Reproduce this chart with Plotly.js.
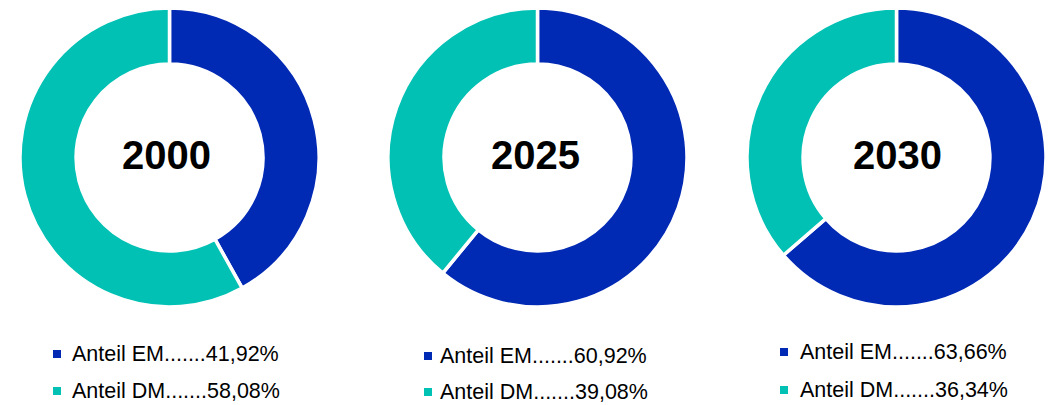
<!DOCTYPE html>
<html>
<head>
<meta charset="utf-8">
<script src="https://cdn.plot.ly/plotly-3.0.1.min.js"></script>
<style>html,body{margin:0;padding:0;background:#fff;}#chart{width:1050px;height:405px;}</style>
</head>
<body>
<div id="chart"></div>
<script>
const years = ['2000', '2025', '2030'];
const seriesLabels = ['Anteil EM', 'Anteil DM'];
const emShare = [41.92, 60.92, 63.66];
const dmShare = [58.08, 39.08, 36.34];
const colors = ['#0029B4', '#00C1B3'];

const W = 1050, H = 405;
// layout geometry (pixels)
const centersX = [169.5, 537.5, 896.5];
const centerY = 157.5;
const radius = 149.5;
const legendSquareX = [57, 428, 784];
const legendTextX = [70, 438, 798];
const legendRowY = [[354, 391], [356, 392], [352, 390]];
const yearLabelX = [166, 535, 897];
const yearLabelY = 155;

const fmt = v => v.toFixed(2).replace('.', ',') + '%';

const traces = years.map((yr, i) => ({
  type: 'pie',
  name: yr,
  labels: seriesLabels,
  values: [emShare[i], dmShare[i]],
  hole: 0.625,
  sort: false,
  direction: 'clockwise',
  rotation: 0,
  textinfo: 'none',
  hoverinfo: 'label+percent',
  marker: {colors: colors, line: {color: '#ffffff', width: 3.5}},
  domain: {
    x: [(centersX[i] - radius) / W, (centersX[i] + radius) / W],
    y: [(H - (centerY + radius)) / H, (H - (centerY - radius)) / H]
  },
  showlegend: false
}));

const annotations = [];
const shapes = [];
years.forEach((yr, i) => {
  annotations.push({
    text: '<b>' + yr + '</b>', xref: 'paper', yref: 'paper',
    x: yearLabelX[i] / W, y: 1 - yearLabelY / H, xanchor: 'center', yanchor: 'middle',
    showarrow: false, font: {family: 'Liberation Sans, Arial, sans-serif', size: 40, color: '#000'}
  });
  const vals = [emShare[i], dmShare[i]];
  seriesLabels.forEach((lab, j) => {
    const ry = legendRowY[i][j];
    annotations.push({
      text: lab + '.......' + fmt(vals[j]), xref: 'paper', yref: 'paper',
      x: legendTextX[i] / W, y: 1 - ry / H, xanchor: 'left', yanchor: 'middle',
      showarrow: false, font: {family: 'Liberation Sans, Arial, sans-serif', size: 21.5, color: '#000'}
    });
    shapes.push({
      type: 'rect', xref: 'paper', yref: 'paper',
      x0: (legendSquareX[i] - 4) / W, x1: (legendSquareX[i] + 4) / W,
      y0: 1 - (ry + 4) / H, y1: 1 - (ry - 4) / H,
      fillcolor: colors[j], line: {width: 0}
    });
  });
});

const layout = {
  width: W, height: H,
  margin: {l: 0, r: 0, t: 0, b: 0},
  paper_bgcolor: '#ffffff',
  showlegend: false,
  annotations: annotations,
  shapes: shapes
};

Plotly.newPlot('chart', traces, layout, {displayModeBar: false, staticPlot: true});
</script>
</body>
</html>
